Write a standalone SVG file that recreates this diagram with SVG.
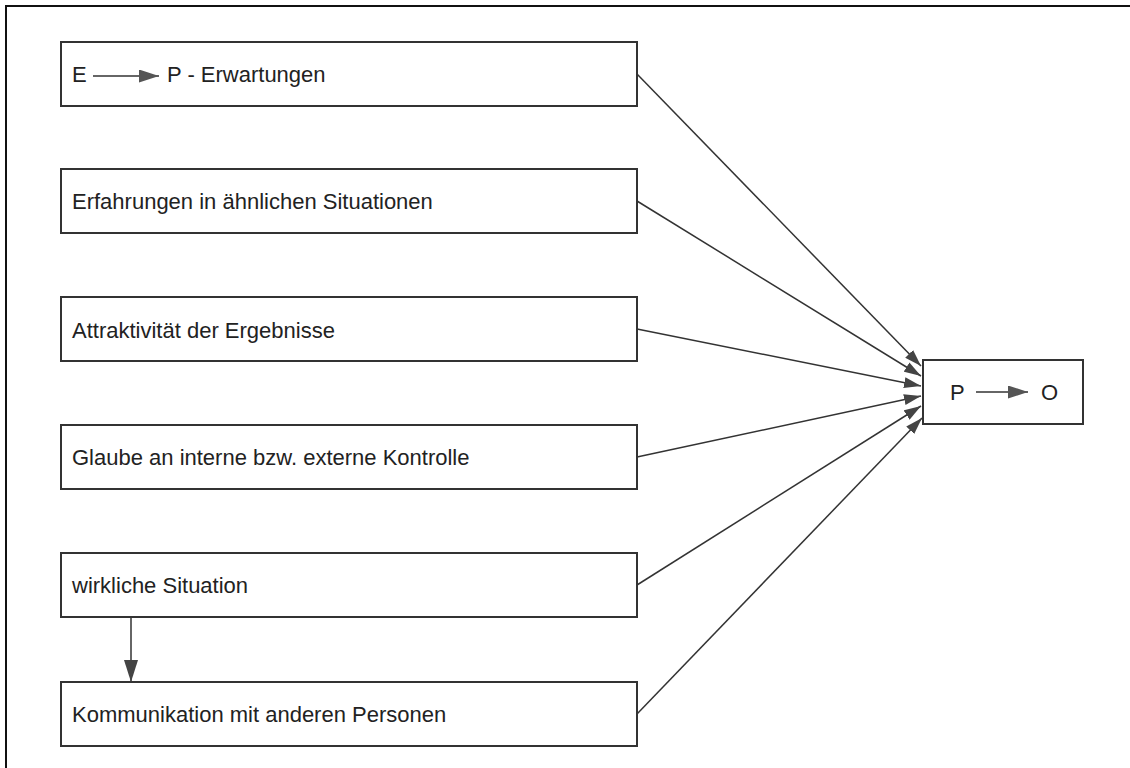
<svg xmlns="http://www.w3.org/2000/svg" width="1130" height="768" viewBox="0 0 1130 768">
<style>
.box{fill:#fff;stroke:#333;stroke-width:2}
.lbl{font-family:"Liberation Sans",Arial,sans-serif;font-size:22px;fill:#222}
.con{stroke:#333;stroke-width:1.5;fill:none}
</style>
<defs>
<marker id="ah" markerUnits="userSpaceOnUse" markerWidth="17" markerHeight="11" refX="17" refY="5.5" orient="auto">
<path d="M0,0 L17,5.5 L0,11 z" fill="#444"/>
</marker>
<marker id="ahd" markerUnits="userSpaceOnUse" markerWidth="22" markerHeight="14" refX="22" refY="7" orient="auto">
<path d="M0,0 L22,7 L0,14 z" fill="#444"/>
</marker>
<marker id="ahs" markerUnits="userSpaceOnUse" markerWidth="20" markerHeight="13" refX="20" refY="6.5" orient="auto">
<path d="M0,0 L20,6.5 L0,13 z" fill="#555"/>
</marker>
</defs>
<rect x="0" y="0" width="1130" height="768" fill="#fff"/>
<path d="M6,770 V6 H1132" fill="none" stroke="#111" stroke-width="2"/>

<g id="n1">
<rect class="box" x="61" y="42" width="576" height="64"/>
<text class="lbl" x="72" y="82">E</text>
<line class="con" x1="93" y1="76" x2="159" y2="76" marker-end="url(#ahs)"/>
<text class="lbl" x="167" y="82">P - Erwartungen</text>
</g>
<g id="n2">
<rect class="box" x="61" y="169" width="576" height="64"/>
<text class="lbl" x="72" y="209">Erfahrungen in ähnlichen Situationen</text>
</g>
<g id="n3">
<rect class="box" x="61" y="297" width="576" height="64"/>
<text class="lbl" x="72" y="338">Attraktivität der Ergebnisse</text>
</g>
<g id="n4">
<rect class="box" x="61" y="425" width="576" height="64"/>
<text class="lbl" x="72" y="465">Glaube an interne bzw. externe Kontrolle</text>
</g>
<g id="n5">
<rect class="box" x="61" y="553" width="576" height="64"/>
<text class="lbl" x="72" y="593">wirkliche Situation</text>
</g>
<g id="n6">
<rect class="box" x="61" y="682" width="576" height="64"/>
<text class="lbl" x="72" y="722">Kommunikation mit anderen Personen</text>
</g>
<g id="target">
<rect class="box" x="923" y="360" width="160" height="64"/>
<text class="lbl" x="950" y="400">P</text>
<line class="con" x1="976" y1="392" x2="1028" y2="392" marker-end="url(#ahs)"/>
<text class="lbl" x="1041" y="400">O</text>
</g>

<g id="connectors">
<line class="con" x1="637" y1="74" x2="921" y2="366" marker-end="url(#ah)"/>
<line class="con" x1="637" y1="201" x2="921" y2="376" marker-end="url(#ah)"/>
<line class="con" x1="637" y1="329" x2="921" y2="386" marker-end="url(#ah)"/>
<line class="con" x1="637" y1="457" x2="921" y2="396" marker-end="url(#ah)"/>
<line class="con" x1="637" y1="585" x2="921" y2="406" marker-end="url(#ah)"/>
<line class="con" x1="637" y1="714" x2="922" y2="418" marker-end="url(#ah)"/>
<line class="con" x1="131" y1="618" x2="131" y2="682" marker-end="url(#ahd)"/>
</g>
</svg>
